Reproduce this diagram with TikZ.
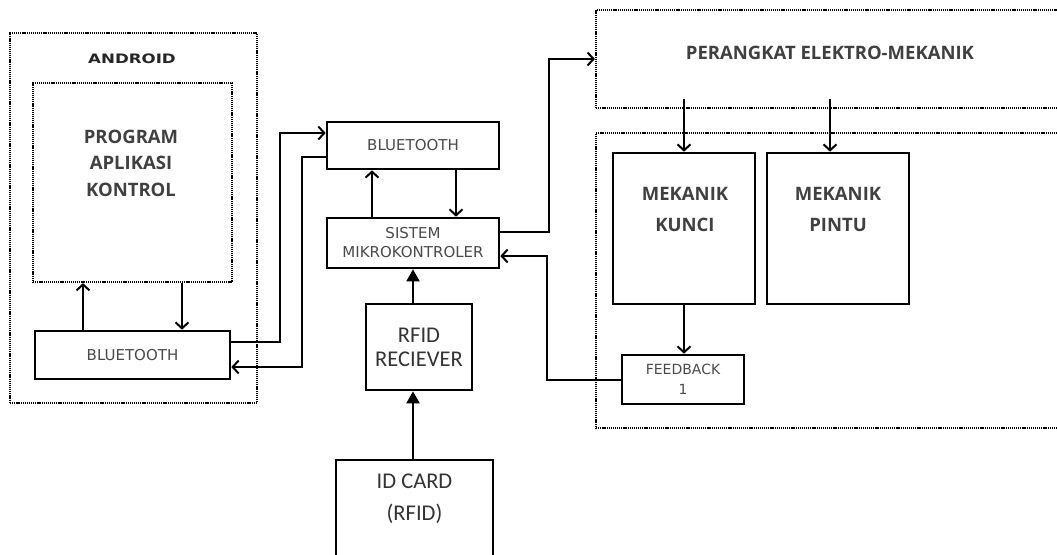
\documentclass[tikz,border=0pt]{standalone}
\usepackage{fontspec}
\newfontfamily\djsans{DejaVu Sans}
\newfontfamily\opensans{Open Sans}
\newfontfamily\carlito{Carlito}
\usepackage{tikz}
\usetikzlibrary{arrows.meta,positioning,calc}
\definecolor{txtgray}{HTML}{404040}
\definecolor{lblgray}{HTML}{4a4a4a}

\begin{document}
\begin{tikzpicture}[
    x=1pt, y=-1pt,
    box/.style={draw, line width=2.6pt, inner sep=0pt},
    dotbox/.style={draw, line width=2.2pt, dash pattern=on 1.2pt off 0.9pt, inner sep=0pt},
    arr/.style={->, >={Straight Barb[length=6pt,width=13pt]}, line width=2pt},
    tri/.style={-{Triangle[length=12pt,width=13pt]}, line width=2pt},
    biglabel/.style={font=\opensans\bfseries\fontsize{18.5}{26.5}\selectfont, text=txtgray, align=center},
    btlabel/.style={font=\djsans\fontsize{15}{19}\selectfont, text=lblgray, align=center},
    rfidlabel/.style={font=\carlito\fontsize{22.5}{24}\selectfont, text=black!80, align=center}
]
\useasboundingbox (0,0) rectangle (1057,554);
\clip (0,0) rectangle (1057,554);

% Android side
\node[dotbox, minimum width=247pt, minimum height=370pt] (android) at (133.5,218) {};
\node[font=\djsans\bfseries\fontsize{13}{14}\selectfont, text=black!85] (androidtxt) at (132,59) {\scalebox{1.28}[1]{ANDROID}};
\node[dotbox, minimum width=199pt, minimum height=199pt] (app) at (132.5,182.5) {};
\node[biglabel] (apptxt) at (131,163) {PROGRAM\\APLIKASI\\KONTROL};
\node[box, minimum width=195pt, minimum height=48pt, btlabel] (btA) at (132.5,355) {BLUETOOTH};

% Controller
\node[box, minimum width=172pt, minimum height=47pt, btlabel] (btB) at (413,145.5) {BLUETOOTH};
\node[box, minimum width=172pt, minimum height=50pt, btlabel] (mcu) at (413,243) {SISTEM\\MIKROKONTROLER};
\node[box, minimum width=106pt, minimum height=86pt, rfidlabel] (rfid) at (419,347) {RFID\\RECIEVER};
\node[box, minimum width=157pt, minimum height=140pt] (card) at (414.5,530) {};
\node[rfidlabel, font=\carlito\fontsize{22.5}{32}\selectfont] (cardtxt) at (414.5,499) {ID CARD\\(RFID)};

% Electro-mechanical side
\node[dotbox, minimum width=480pt, minimum height=98pt] (elektro) at (836,59) {};
\node[biglabel] (elektrotxt) at (830,53) {PERANGKAT ELEKTRO-MEKANIK};
\node[dotbox, minimum width=480pt, minimum height=295pt] (mech) at (836,280.5) {};
\node[box, minimum width=142pt, minimum height=151pt] (kunci) at (684,228.5) {};
\node[biglabel, font=\opensans\bfseries\fontsize{18.5}{31}\selectfont] (kuncitxt) at (685,209) {MEKANIK\\KUNCI};
\node[box, minimum width=142pt, minimum height=151pt] (pintu) at (838,228.5) {};
\node[biglabel, font=\opensans\bfseries\fontsize{18.5}{31}\selectfont] (pintutxt) at (838,209) {MEKANIK\\PINTU};
\node[box, minimum width=122pt, minimum height=49pt, btlabel, font=\djsans\fontsize{14}{20}\selectfont] (fb) at (683,379.5) {FEEDBACK\\1};

% Android links
\draw[arr] ([xshift=49.5]app.south) -- ([xshift=49.5]btA.north);
\draw[arr] ([xshift=-49.5]btA.north) -- ([xshift=-49.5]app.south);
\draw[arr] ([yshift=13]btA.east) -- ++(49,0) |- ([yshift=12.5]btB.west);
\draw[arr] ([yshift=-11.5]btB.west) -- ++(-24,0) |- ([yshift=-12]btA.east);

% Controller links
\draw[arr] ([xshift=-41]mcu.north) -- ([xshift=-41]btB.south);
\draw[arr] ([xshift=43]btB.south) -- ([xshift=43]mcu.north);
\draw[arr] ([yshift=11]mcu.east) -- ++(49,0) |- (elektro.west);
\draw[arr] (fb.west) -- ++(-74,0) |- ([yshift=-13]mcu.east);

% Mechanics
\draw[arr] ($(elektro.south -| kunci.north)+(0,-10)$) -- (kunci.north);
\draw[arr] ($(elektro.south -| pintu.north)+(-8,-10)$) -- ([xshift=-8]pintu.north);
\draw[arr] (kunci.south) -- (kunci.south |- fb.north);

% RFID
\draw[tri] (rfid.north -| mcu.south) -- (mcu.south);
\draw[tri] (card.north -| mcu.south) -- (rfid.south -| mcu.south);

\end{tikzpicture}
\end{document}
